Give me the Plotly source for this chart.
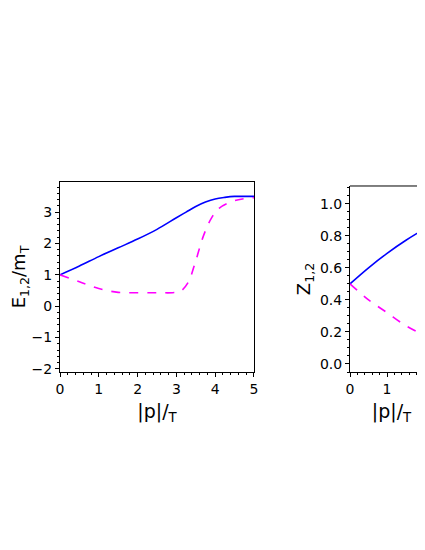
import plotly.graph_objects as go

# left panel: energies
p_left = [0, 0.5, 1, 1.5, 2, 2.5, 3, 3.25, 3.5, 3.75, 4, 4.25, 4.5, 4.75, 5]
e1 = [1.0, 1.28, 1.58, 1.86, 2.14, 2.45, 2.82, 3.0, 3.18, 3.32, 3.42, 3.47, 3.5, 3.5, 3.5]
p_mag = [0, 0.5, 1, 1.5, 2, 2.5, 2.9, 3.1, 3.3, 3.5, 3.7, 3.9, 4.1, 4.4, 4.7, 5]
e2 = [1.0, 0.78, 0.56, 0.44, 0.43, 0.43, 0.43, 0.47, 0.75, 1.45, 2.25, 2.8, 3.12, 3.32, 3.42, 3.46]

# right panel: residues
p_right = [0, 0.5, 1, 1.5, 2, 2.3]
z1 = [0.5, 0.6, 0.69, 0.77, 0.84, 0.875]
z2 = [0.5, 0.4, 0.32, 0.24, 0.18, 0.15]

font = dict(family="DejaVu Sans", size=15, color="black")
fig = go.Figure()
fig.add_trace(go.Scatter(x=p_left, y=e1, mode="lines", line=dict(color="blue", width=1.6, shape="spline"), xaxis="x", yaxis="y"))
fig.add_trace(go.Scatter(x=p_mag, y=e2, mode="lines", line=dict(color="magenta", width=1.6, dash="dash", shape="spline"), xaxis="x", yaxis="y"))
fig.add_trace(go.Scatter(x=p_right, y=z1, mode="lines", line=dict(color="blue", width=1.6, shape="spline"), xaxis="x2", yaxis="y2"))
fig.add_trace(go.Scatter(x=p_right, y=z2, mode="lines", line=dict(color="magenta", width=1.6, dash="dash", shape="spline"), xaxis="x2", yaxis="y2"))

ax = dict(showgrid=False, zeroline=False, showline=True, linecolor="black", linewidth=1,
          ticks="outside", ticklen=4, tickcolor="black", tickfont=dict(size=14), automargin=False,
          minor=dict(ticks="outside", ticklen=2, tickcolor="black"))
fig.update_layout(
    width=425, height=550, showlegend=False, font=font,
    plot_bgcolor="white", paper_bgcolor="white",
    margin=dict(l=52, r=0, t=174, b=186),
    xaxis=dict(ax, domain=[0, 0.52], range=[0, 5], dtick=1, mirror=True,
               title=dict(text="|p|/<sub>T</sub>", font=dict(size=19), standoff=8)),
    yaxis=dict(ax, range=[-2.1, 3.96], dtick=1, mirror=True, tickformat="d",
               title=dict(text="E<sub>1,2</sub>/m<sub>T</sub>", font=dict(size=18), standoff=4)),
    xaxis2=dict(ax, domain=[0.7775, 1], range=[0, 2.24], dtick=1, anchor="y2",
                title=dict(text="|p|/<sub>T</sub>", font=dict(size=19), standoff=8)),
    yaxis2=dict(ax, domain=[0, 0.979], range=[-0.05, 1.11], dtick=0.2, tickformat=".1f", anchor="x2",
                title=dict(text="Z<sub>1,2</sub>", font=dict(size=18), standoff=4)),
)
fig.add_shape(type="line", xref="x2 domain", yref="y2 domain", x0=0, x1=1, y0=1, y1=1, line=dict(color="black", width=1))
fig.write_html("out.html")
